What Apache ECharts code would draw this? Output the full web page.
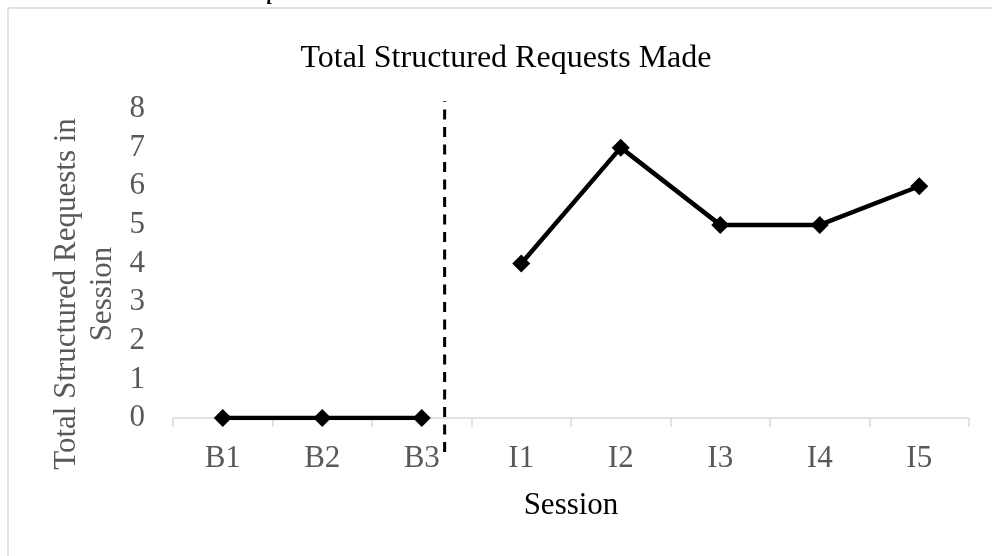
<!DOCTYPE html>
<html>
<head>
<meta charset="utf-8">
<script src="https://cdn.jsdelivr.net/npm/echarts@6/dist/echarts.min.js"></script>
<style>
html,body{margin:0;padding:0;background:#fff;}
#chart{width:992px;height:556px;}
</style>
</head>
<body>
<div id="chart"></div>
<script>
var sessions = ['B1','B2','B3','I1','I2','I3','I4','I5'];
var baselineValues = [0, 0, 0, null, null, null, null, null];
var interventionValues = [null, null, null, 4, 7, 5, 5, 6];
var yTicks = [0, 1, 2, 3, 4, 5, 6, 7, 8];
var phaseChangeX = 2.23;            // position between B3 and I1 (category index units)
var phaseLineY = [-0.88, 8.2];      // vertical extent of the phase-change line (value units)

var serif = '"Liberation Serif", "Times New Roman", serif';
var chart = echarts.init(document.getElementById('chart'), null, {renderer: 'canvas'});

function toSeries(arr) { return arr.map(function (v) { return v === null ? '-' : v; }); }

var option = {
  animation: false,
  backgroundColor: '#ffffff',
  title: {
    text: 'Total Structured Requests Made',
    left: 501,
    textAlign: 'center',
    top: 38,
    textStyle: {fontFamily: serif, fontSize: 32, fontWeight: 'normal', color: '#000000'}
  },
  graphic: [
    {
      type: 'rect',
      shape: {x: 8, y: 8, width: 1100, height: 700},
      style: {fill: 'none', stroke: '#d9d9d9', lineWidth: 1.5},
      silent: true
    },
    {
      type: 'text',
      x: 18, y: 4,
      style: {
        text: 'Total Structured Requests Made.',
        font: 'italic 31px ' + serif,
        fill: '#000000',
        textVerticalAlign: 'bottom',
        verticalAlign: 'bottom'
      },
      silent: true
    },
    {
      type: 'text',
      x: 85, y: 294,
      rotation: Math.PI / 2,
      style: {
        text: 'Total Structured Requests in\nSession',
        font: '31px ' + serif,
        lineHeight: 36,
        fill: '#595959',
        align: 'center',
        verticalAlign: 'middle',
        textAlign: 'center',
        textVerticalAlign: 'middle'
      },
      silent: true
    }
  ],
  grid: {left: 173, right: 23, top: 109, bottom: 138},
  xAxis: [
    {
      type: 'category',
      data: sessions,
      boundaryGap: true,
      name: 'Session',
      nameLocation: 'middle',
      nameGap: 72,
      nameTextStyle: {fontFamily: serif, fontSize: 31, color: '#000000'},
      axisLine: {show: true, lineStyle: {color: '#d9d9d9', width: 1.5}},
      axisTick: {show: true, length: 9, lineStyle: {color: '#d9d9d9', width: 1.5}},
      axisLabel: {fontFamily: serif, fontSize: 31, color: '#595959', margin: 25},
      splitLine: {show: false}
    },
    {
      type: 'value',
      min: -0.5,
      max: 7.5,
      show: false
    }
  ],
  yAxis: {
    type: 'value',
    min: yTicks[0],
    max: yTicks[yTicks.length - 1],
    interval: 1,
    axisLine: {show: false},
    axisTick: {show: false},
    splitLine: {show: false},
    axisLabel: {fontFamily: serif, fontSize: 31, color: '#595959', margin: 28}
  },
  series: [
    {
      name: 'Baseline',
      type: 'line',
      data: toSeries(baselineValues),
      symbol: 'diamond',
      symbolSize: 18,
      lineStyle: {color: '#000000', width: 4.5},
      itemStyle: {color: '#000000'},
      z: 3
    },
    {
      name: 'Intervention',
      type: 'line',
      data: toSeries(interventionValues),
      symbol: 'diamond',
      symbolSize: 18,
      lineStyle: {color: '#000000', width: 4.5},
      itemStyle: {color: '#000000'},
      z: 3
    },
    {
      name: 'Phase change',
      type: 'line',
      xAxisIndex: 1,
      clip: false,
      data: [[phaseChangeX, phaseLineY[0]], [phaseChangeX, phaseLineY[1]]],
      symbol: 'none',
      lineStyle: {color: '#000000', width: 3, type: [10, 7.5]},
      z: 2,
      silent: true
    }
  ]
};
chart.setOption(option);
</script>
</body>
</html>
